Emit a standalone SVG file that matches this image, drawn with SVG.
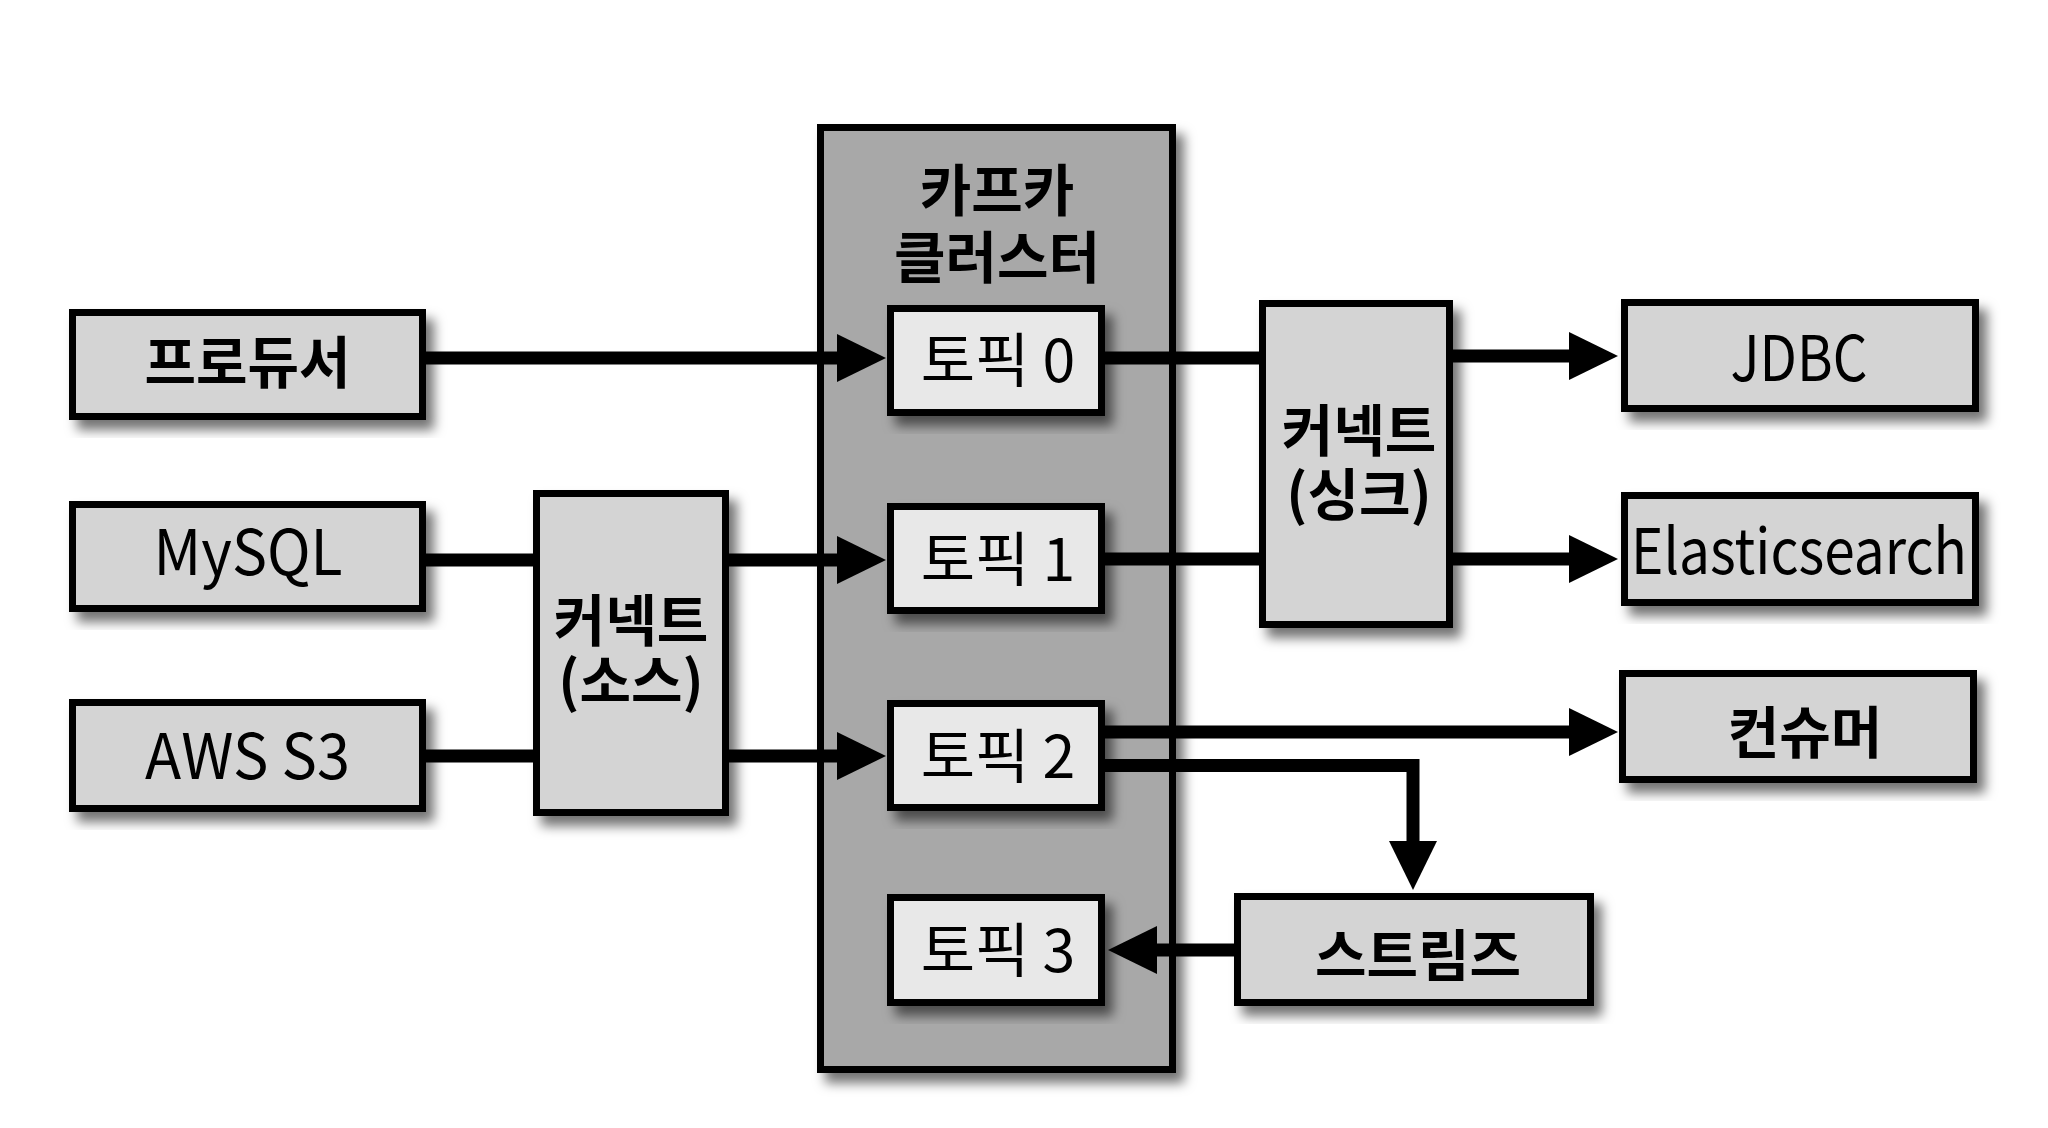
<svg xmlns="http://www.w3.org/2000/svg" width="2048" height="1128" viewBox="0 0 2048 1128">
  <defs>
    <filter id="shadow" x="-10%" y="-10%" width="130%" height="130%">
      <feDropShadow dx="8" dy="10" stdDeviation="6" flood-color="#000" flood-opacity="0.55"/>
    </filter>
    <marker id="arrow" markerUnits="userSpaceOnUse" viewBox="0 -24 49 48" refX="1" refY="0" markerWidth="49" markerHeight="48" orient="auto">
      <path d="M0,-24 L49,0 L0,24 z" fill="#000"/>
    </marker>
    <style>
      .box { fill: #d4d4d4; stroke: #000; stroke-width: 7; filter: url(#shadow); }
      .topic { fill: #e8e8e8; stroke: #000; stroke-width: 7; filter: url(#shadow); }
      .cluster { fill: #a8a8a8; stroke: #000; stroke-width: 7; filter: url(#shadow); }
      .bold { font-family: "Noto Sans CJK KR", "Noto Sans", sans-serif; font-weight: 700; font-size: 56px; fill: #000; text-anchor: middle; }
      .reg { font-family: "Noto Sans CJK KR", "Noto Sans", sans-serif; font-weight: 400; font-size: 63px; fill: #000; text-anchor: middle; }
      .topicText { font-family: "Noto Sans CJK KR", "Noto Sans", sans-serif; font-weight: 400; font-size: 59px; fill: #000; text-anchor: middle; }
      .conn { fill: none; stroke: #000; stroke-width: 13; stroke-linejoin: miter; }
      .arr { marker-end: url(#arrow); }
    </style>
  </defs>
  <rect width="2048" height="1128" fill="#fff"/>

  <g id="kafka-cluster">
    <rect class="cluster" x="820.5" y="127.5" width="352" height="942"/>
    <text class="bold" x="997" y="211">카프카</text>
    <text class="bold" x="997" y="278">클러스터</text>
  </g>
  <g id="topic0">
    <rect class="topic" x="890.5" y="308.5" width="211" height="104"/>
    <text class="topicText" x="998" y="382">토픽 0</text>
  </g>
  <g id="topic1">
    <rect class="topic" x="890.5" y="506.5" width="211" height="104"/>
    <text class="topicText" x="998" y="581">토픽 1</text>
  </g>
  <g id="topic2">
    <rect class="topic" x="890.5" y="703.5" width="211" height="104"/>
    <text class="topicText" x="998" y="778">토픽 2</text>
  </g>
  <g id="topic3">
    <rect class="topic" x="890.5" y="897.5" width="211" height="105"/>
    <text class="topicText" x="998" y="972">토픽 3</text>
  </g>

  <g id="producer">
    <rect class="box" x="72.5" y="312.5" width="350" height="104"/>
    <text class="bold" x="247.5" y="383">프로듀서</text>
  </g>
  <g id="mysql">
    <rect class="box" x="72.5" y="504.5" width="350" height="104"/>
    <text class="reg" x="248" y="575" textLength="189" lengthAdjust="spacingAndGlyphs">MySQL</text>
  </g>
  <g id="aws-s3">
    <rect class="box" x="72.5" y="702.5" width="350" height="106"/>
    <text class="reg" x="247.5" y="779" textLength="205" lengthAdjust="spacingAndGlyphs">AWS S3</text>
  </g>
  <g id="connect-source">
    <rect class="box" x="536.5" y="493.5" width="189" height="319"/>
    <text class="bold" x="631" y="641">커넥트</text>
    <text class="bold" x="631" y="702">(소스)</text>
  </g>
  <g id="connect-sink">
    <rect class="box" x="1262.5" y="303.5" width="187" height="321"/>
    <text class="bold" x="1359" y="451">커넥트</text>
    <text class="bold" x="1359" y="515">(싱크)</text>
  </g>
  <g id="jdbc">
    <rect class="box" x="1624.5" y="302.5" width="351" height="106"/>
    <text class="reg" x="1799" y="381" textLength="137" lengthAdjust="spacingAndGlyphs">JDBC</text>
  </g>
  <g id="elasticsearch">
    <rect class="box" x="1624.5" y="495.5" width="351" height="107"/>
    <text class="reg" x="1799" y="574" textLength="336" lengthAdjust="spacingAndGlyphs">Elasticsearch</text>
  </g>
  <g id="consumer">
    <rect class="box" x="1622.5" y="673.5" width="351" height="106"/>
    <text class="bold" x="1805" y="753">컨슈머</text>
  </g>
  <g id="streams">
    <rect class="box" x="1237.5" y="896.5" width="353" height="106"/>
    <text class="bold" x="1418" y="976">스트림즈</text>
  </g>

  <g id="connectors">
    <path class="conn arr" d="M426,358 H838"/>
    <path class="conn" d="M426,560 H537"/>
    <path class="conn" d="M426,756 H537"/>
    <path class="conn arr" d="M725,560 H838"/>
    <path class="conn arr" d="M725,756 H838"/>
    <path class="conn" d="M1105,358 H1263"/>
    <path class="conn" d="M1105,559 H1263"/>
    <path class="conn arr" d="M1449,356 H1570"/>
    <path class="conn arr" d="M1449,559 H1570"/>
    <path class="conn arr" d="M1105,732 H1570"/>
    <path class="conn arr" d="M1105,765.5 H1413 V842"/>
    <path class="conn arr" d="M1234,950 H1156"/>
  </g>
</svg>
